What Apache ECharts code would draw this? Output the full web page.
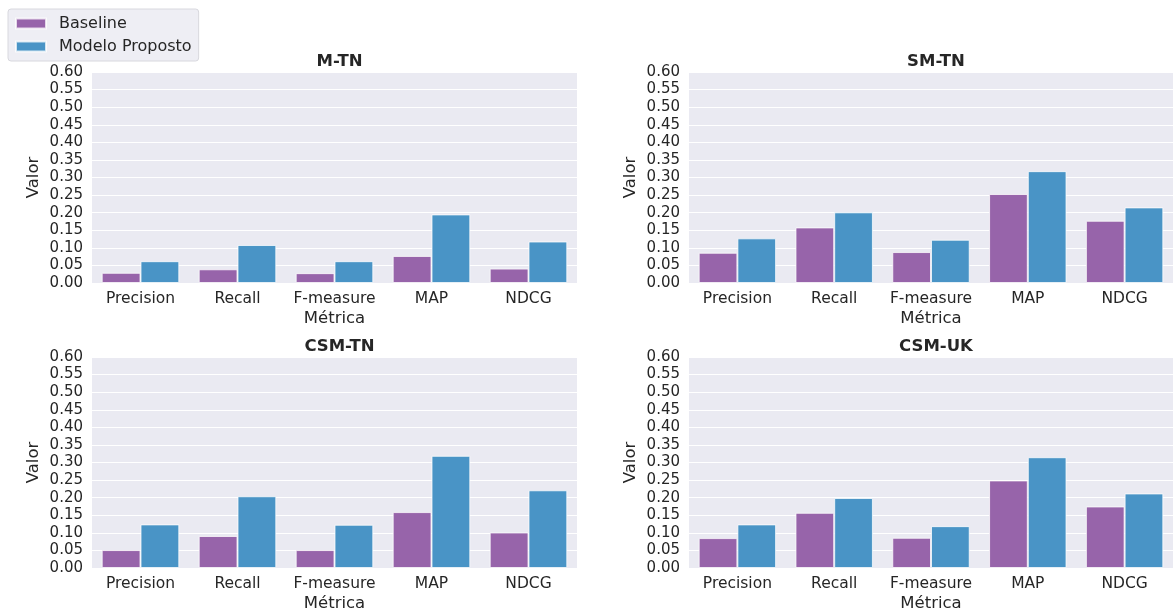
<!DOCTYPE html>
<html>
<head>
<meta charset="utf-8">
<script src="https://cdn.jsdelivr.net/npm/echarts@6/dist/echarts.min.js"></script>
<style>
  html, body { margin: 0; padding: 0; background: #ffffff; }
  #chart { width: 1173px; height: 610px; }
</style>
</head>
<body>
<div id="chart"></div>
<script>
// Metrics on the x axis of every panel
const metrics = ['Precision', 'Recall', 'F-measure', 'MAP', 'NDCG'];
const seriesNames = ['Baseline', 'Modelo Proposto'];
const panelTitles = ['M-TN', 'SM-TN', 'CSM-TN', 'CSM-UK'];
const yTicks = [0, 0.6, 0.05];

// Scores per panel
const mtnBaseline = [0.029, 0.039, 0.028, 0.077, 0.041];
const mtnProposto = [0.062, 0.108, 0.062, 0.195, 0.118];
const smtnBaseline = [0.086, 0.158, 0.088, 0.253, 0.177];
const smtnProposto = [0.127, 0.201, 0.123, 0.318, 0.215];
const csmtnBaseline = [0.051, 0.091, 0.051, 0.159, 0.101];
const csmtnProposto = [0.124, 0.204, 0.123, 0.319, 0.221];
const csmukBaseline = [0.085, 0.157, 0.086, 0.249, 0.175];
const csmukProposto = [0.124, 0.199, 0.119, 0.315, 0.212];

const panels = [
  [mtnBaseline, mtnProposto],
  [smtnBaseline, smtnProposto],
  [csmtnBaseline, csmtnProposto],
  [csmukBaseline, csmukProposto]
];

const colors = ['#9764AA', '#4994C6'];
const textColor = '#262626';
const font = 'DejaVu Sans';

const gridBoxes = [
  { left: 92, top: 72, width: 485, height: 211 },
  { left: 689, top: 72, width: 484, height: 211 },
  { left: 92, top: 357, width: 485, height: 211 },
  { left: 689, top: 357, width: 484, height: 211 }
];

// Fixed plot rectangles: keep them exactly where given, even when axis names reach the edge
const grids = gridBoxes.map(b => Object.assign({
  show: true, backgroundColor: '#EAEAF2', borderWidth: 0, containLabel: false,
  outerBoundsMode: 'none'
}, b));

const xAxes = gridBoxes.map((b, i) => ({
  type: 'category', gridIndex: i, data: metrics,
  axisLine: { show: false }, axisTick: { show: false },
  axisLabel: { color: textColor, fontFamily: font, fontSize: 15.5, margin: 8, interval: 0 },
  splitLine: { show: false },
  name: 'Métrica', nameLocation: 'middle', nameGap: 27,
  nameTextStyle: { color: textColor, fontFamily: font, fontSize: 16.5 }
}));

const yAxes = gridBoxes.map((b, i) => ({
  type: 'value', gridIndex: i, min: yTicks[0], max: yTicks[1], interval: yTicks[2],
  axisLine: { show: false }, axisTick: { show: false },
  axisLabel: { color: textColor, fontFamily: font, fontSize: 15, margin: 9,
    formatter: v => v.toFixed(2) },
  splitLine: { show: true, lineStyle: { color: '#ffffff', width: 1 } },
  name: 'Valor', nameLocation: 'middle', nameGap: 50,
  nameTextStyle: { color: textColor, fontFamily: font, fontSize: 16.5 }
}));

const series = [];
panels.forEach((pair, i) => {
  pair.forEach((vals, k) => {
    series.push({
      type: 'bar', name: seriesNames[k], xAxisIndex: i, yAxisIndex: i,
      data: vals, barGap: '0%', barCategoryGap: '20%',
      itemStyle: { color: colors[k], borderColor: 'rgba(255,255,255,0.75)', borderWidth: 1 },
      emphasis: { disabled: true }
    });
  });
});

const titles = gridBoxes.map((b, i) => ({
  text: panelTitles[i],
  left: b.left + b.width / 2, top: b.top - 24, textAlign: 'center',
  textStyle: { color: textColor, fontFamily: font, fontSize: 16.5, fontWeight: 'bold' }
}));

const chart = echarts.init(document.getElementById('chart'), null, { renderer: 'canvas' });
chart.setOption({
  animation: false,
  backgroundColor: '#ffffff',
  title: titles,
  legend: {
    data: seriesNames, orient: 'vertical', left: 8, top: 9,
    padding: [6, 7, 6, 7], itemGap: 6, itemWidth: 30, itemHeight: 10, icon: 'rect',
    backgroundColor: '#EEEEF4', borderColor: '#D8D8DE', borderWidth: 1, borderRadius: 3,
    textStyle: { color: textColor, fontFamily: font, fontSize: 16, lineHeight: 17,
      padding: [0, 0, 0, 8] }
  },
  grid: grids,
  xAxis: xAxes,
  yAxis: yAxes,
  series: series
});
</script>
</body>
</html>
